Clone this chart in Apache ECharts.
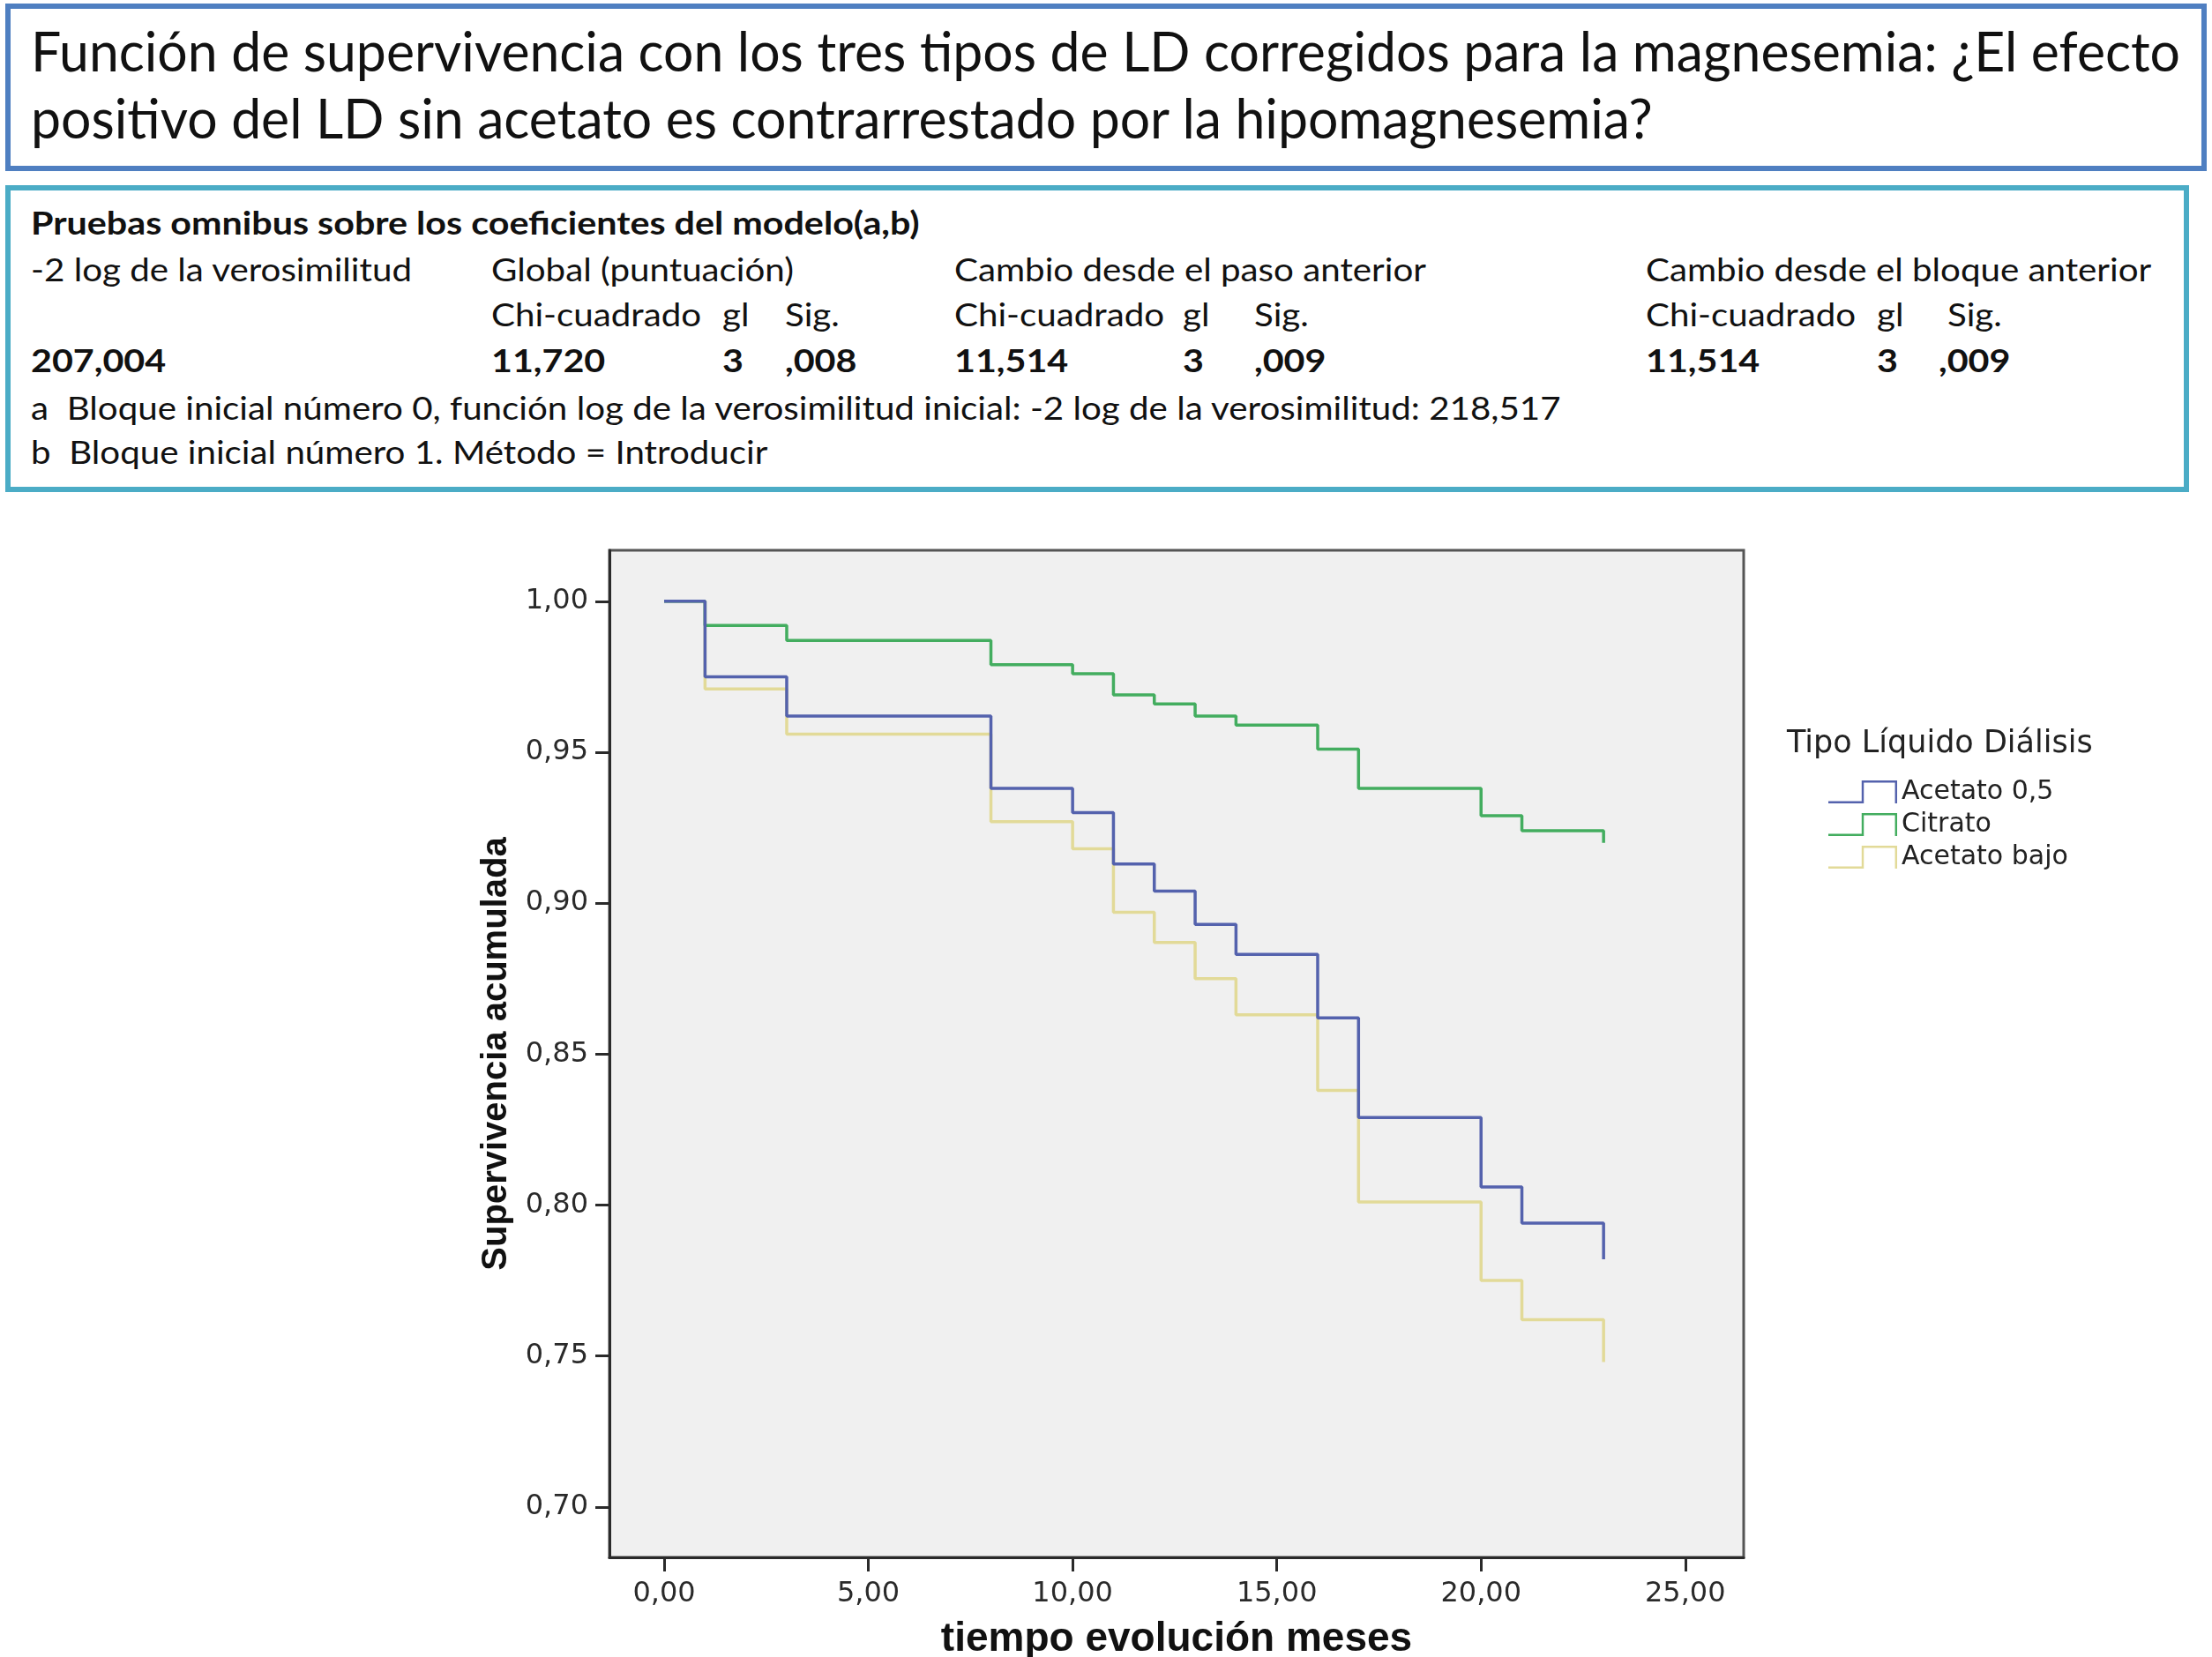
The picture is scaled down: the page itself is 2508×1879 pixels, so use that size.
<!DOCTYPE html>
<html lang="es">
<head>
<meta charset="UTF-8">
<title>Función de supervivencia</title>
<script src="https://cdn.jsdelivr.net/npm/echarts@6.0.0/dist/echarts.min.js"></script>
<style>
    body { margin: 0; width: 2508px; height: 1879px; overflow: hidden; position: relative; background: #fff; color: #111; font-family: Lato, "Noto Sans", sans-serif; }
    #chart { position: absolute; left: 0; top: 0; width: 2508px; height: 1879px; }
    .box { position: absolute; box-sizing: border-box; background: #fff; z-index: 1; }
    #titlebox { left: 6px; top: 4px; width: 2496px; height: 190px; border: 6px solid #4f7fc1; }
    #tablebox { left: 6px; top: 210px; width: 2476px; height: 348px; border: 6px solid #4bacc6; }
    .t { position: absolute; white-space: nowrap; transform-origin: 0 50%; z-index: 2; }
    .tt { font-size: 62px; line-height: 70px; }
    .tb { font-size: 36px; line-height: 44px; }
    .b { font-weight: bold; }
</style>
</head>
<body>
<div id="chart"></div>
<div class="box" id="titlebox"></div>
<div class="box" id="tablebox"></div>

<span class="t tt" id="title1" style="left:35px; top:22px">Función de supervivencia con los tres tipos de LD corregidos para la magnesemia: ¿El efecto</span>
<span class="t tt" style="left:35px; top:98px">positivo del LD sin acetato es contrarrestado por la hipomagnesemia?</span>

<span class="t tb b" id="head" style="left:35px; top:230px">Pruebas omnibus sobre los coeficientes del modelo(a,b)</span>

<span class="t tb" id="ref" style="left:35px; top:283px">-2 log de la verosimilitud</span>
<span class="t tb" style="left:557px; top:283px">Global (puntuación)</span>
<span class="t tb" style="left:1082px; top:283px">Cambio desde el paso anterior</span>
<span class="t tb" style="left:1866px; top:283px">Cambio desde el bloque anterior</span>

<span class="t tb" style="left:557px; top:334px">Chi-cuadrado</span>
<span class="t tb" style="left:819px; top:334px">gl</span>
<span class="t tb" style="left:890px; top:334px">Sig.</span>
<span class="t tb" style="left:1082px; top:334px">Chi-cuadrado</span>
<span class="t tb" style="left:1341px; top:334px">gl</span>
<span class="t tb" style="left:1422px; top:334px">Sig.</span>
<span class="t tb" style="left:1866px; top:334px">Chi-cuadrado</span>
<span class="t tb" style="left:2128px; top:334px">gl</span>
<span class="t tb" style="left:2208px; top:334px">Sig.</span>

<span class="t tb b" style="left:35px; top:386px">207,004</span>
<span class="t tb b" style="left:557px; top:386px">11,720</span>
<span class="t tb b" style="left:819px; top:386px">3</span>
<span class="t tb b" style="left:890px; top:386px">,008</span>
<span class="t tb b" style="left:1082px; top:386px">11,514</span>
<span class="t tb b" style="left:1341px; top:386px">3</span>
<span class="t tb b" style="left:1422px; top:386px">,009</span>
<span class="t tb b" style="left:1866px; top:386px">11,514</span>
<span class="t tb b" style="left:2128px; top:386px">3</span>
<span class="t tb b" style="left:2198px; top:386px">,009</span>

<span class="t tb" style="left:35px; top:440px">a&nbsp; Bloque inicial número 0, función log de la verosimilitud inicial: -2 log de la verosimilitud: 218,517</span>
<span class="t tb" style="left:35px; top:490px">b&nbsp; Bloque inicial número 1. Método = Introducir</span>

<script type="text/javascript">
    // tiempos (meses) y supervivencia acumulada
    var times = [0, 1, 3, 8, 10, 11, 12, 13, 14, 16, 17, 20, 21, 23];
    var acetato05 = [1.000, 0.975, 0.962, 0.938, 0.930, 0.913, 0.904, 0.893, 0.883, 0.862, 0.829, 0.806, 0.794, 0.782];
    var citrato = [1.000, 0.992, 0.987, 0.979, 0.976, 0.969, 0.966, 0.962, 0.959, 0.951, 0.938, 0.929, 0.924, 0.920];
    var acetatoBajo = [1.000, 0.971, 0.956, 0.927, 0.918, 0.897, 0.887, 0.875, 0.863, 0.838, 0.801, 0.775, 0.762, 0.748];
    var seriesNames = ['Acetato 0,5', 'Citrato', 'Acetato bajo'];
    var xTicks = [0, 5, 10, 15, 20, 25];
    var yTicks = [0.70, 0.75, 0.80, 0.85, 0.90, 0.95, 1.00];

    // ajuste horizontal de los textos de cabecera (Calibri es más estrecha que Lato)
    function fit(refId, target, cls) {
        var k = target / document.getElementById(refId).offsetWidth;
        document.querySelectorAll(cls).forEach(function (el) {
            el.style.transform = 'scaleX(' + k + ')';
        });
    }
    fit('title1', 2437, '.tt');
    fit('ref', 432, '.tb:not(.b)');
    fit('head', 1008, '.tb.b');

    function pairs(vals) {
        return times.map(function (t, i) { return [t, vals[i]]; });
    }
    function coma(v) {
        return v.toFixed(2).replace('.', ',');
    }

    var stepIcon = 'path://M0,14.5 L23.25,14.5 L23.25,0 L48,0 L48,16 L46.5,16 L46.5,1.5 L24.75,1.5 L24.75,16 L0,16 Z';
    var labelFont = 'DejaVu Sans';
    var axisColor = '#2a2a2a';

    var chart = echarts.init(document.getElementById('chart'));
    chart.setOption({
        animation: false,
        color: ['#5462ad', '#43ad5f', '#e2da98'],
        title: {
            text: 'Tipo Líquido Diálisis',
            left: 2021,
            top: 821,
            textStyle: { fontFamily: labelFont, fontSize: 35, fontWeight: 'normal', color: '#222' }
        },
        legend: {
            data: seriesNames,
            orient: 'vertical',
            left: 2068,
            top: 878,
            icon: stepIcon,
            itemWidth: 78,
            itemHeight: 26,
            itemGap: 7,
            textStyle: { fontFamily: labelFont, fontSize: 30, color: '#222' }
        },
        grid: {
            left: 691,
            top: 624,
            width: 1286,
            height: 1142,
            outerBoundsMode: 'none',
            containLabel: false,
            show: true,
            backgroundColor: '#f0f0f0',
            borderColor: '#555',
            borderWidth: 3
        },
        xAxis: {
            type: 'value',
            min: -1.34,
            max: 26.43,
            name: 'tiempo evolución meses',
            nameLocation: 'middle',
            nameGap: 70,
            nameTextStyle: { fontFamily: 'Liberation Sans', fontSize: 46, fontWeight: 'bold', color: '#111' },
            axisLine: { onZero: false, lineStyle: { color: axisColor, width: 3 } },
            axisTick: { customValues: xTicks, length: 16, lineStyle: { color: axisColor, width: 3 } },
            axisLabel: { customValues: xTicks, margin: 26, formatter: coma, fontFamily: labelFont, fontSize: 32, color: '#2a2a2a' },
            splitLine: { show: false }
        },
        yAxis: {
            type: 'value',
            min: 0.6833,
            max: 1.0169,
            name: 'Supervivencia acumulada',
            nameLocation: 'middle',
            nameGap: 108,
            nameTextStyle: { fontFamily: 'Liberation Sans', fontSize: 40, fontWeight: 'bold', color: '#111' },
            axisLine: { show: true, onZero: false, lineStyle: { color: axisColor, width: 3 } },
            axisTick: { show: true, customValues: yTicks, length: 16, lineStyle: { color: axisColor, width: 3 } },
            axisLabel: { customValues: yTicks, margin: 24, formatter: coma, fontFamily: labelFont, fontSize: 32, color: '#2a2a2a' },
            splitLine: { show: false }
        },
        series: [
            { name: seriesNames[2], type: 'line', step: 'end', showSymbol: false, lineStyle: { width: 3.5, color: '#e2da98' }, itemStyle: { color: '#e2da98' }, data: pairs(acetatoBajo) },
            { name: seriesNames[1], type: 'line', step: 'end', showSymbol: false, lineStyle: { width: 3.5, color: '#43ad5f' }, itemStyle: { color: '#43ad5f' }, data: pairs(citrato) },
            { name: seriesNames[0], type: 'line', step: 'end', showSymbol: false, lineStyle: { width: 3.5, color: '#5462ad' }, itemStyle: { color: '#5462ad' }, data: pairs(acetato05) }
        ]
    });
</script>
</body>
</html>
